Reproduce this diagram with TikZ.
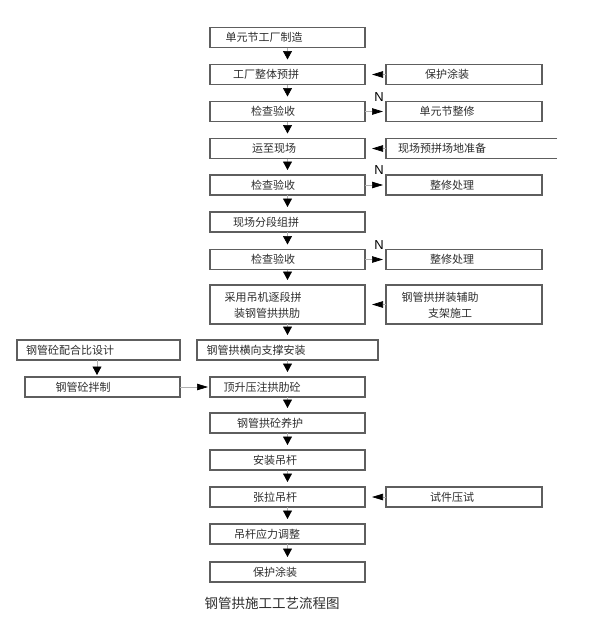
\documentclass[tikz,border=0pt]{standalone}
\usepackage{fontspec}
\setmainfont{Noto Sans CJK SC}
\newfontfamily\latinsans{Liberation Sans}
\usetikzlibrary{arrows.meta}
\definecolor{boxc}{HTML}{5E5E5E}
\definecolor{linec}{HTML}{B0B0B0}
\definecolor{txtc}{HTML}{2E2E2E}
\begin{document}
\begin{tikzpicture}[x=1pt,y=-1pt,
  box/.style={draw=boxc, line width=1.1pt, minimum height=20pt, inner sep=0pt, outer sep=0pt},
  mainbox/.style={box, minimum width=155pt},
  sidebox/.style={box, minimum width=156pt},
  txt/.style={inner sep=0pt, text=txtc, font=\fontsize{11}{13}\selectfont},
  nlab/.style={inner sep=0pt, text=black, font=\latinsans\fontsize{13}{13}\selectfont},
  vlink/.style={draw=linec, line width=0.7pt, -{Triangle[width=9pt,length=8.5pt,color=black]}, shorten >=5pt},
  hlinkl/.style={draw=linec, line width=0.7pt, -{Triangle[width=6.5pt,length=11pt,color=black]}, shorten >=7pt},
  hlinkr/.style={draw=linec, line width=0.7pt, -{Triangle[width=6.5pt,length=11pt,color=black]}, shorten >=3pt},
  boxline/.style={draw=boxc, line width=1.1pt}
]
\useasboundingbox[fill=white] (0,0) rectangle (595,621);

% main column
\node[mainbox] (b1) at (287.5,37.5) {};
\node[txt] (t1) at (264,37.5) {单元节工厂制造};
\node[mainbox] (b2) at (287.5,74.5) {};
\node[txt] (t2) at (266,74.5) {工厂整体预拼};
\node[mainbox] (b3) at (287.5,111.5) {};
\node[txt] (t3) at (273,111.5) {检查验收};
\node[mainbox] (b4) at (287.5,148.5) {};
\node[txt] (t4) at (274,148.5) {运至现场};
\node[mainbox] (b5) at (287.5,185) {};
\node[txt] (t5) at (273,185) {检查验收};
\node[mainbox] (b6) at (287.5,222) {};
\node[txt] (t6) at (266,222) {现场分段组拼};
\node[mainbox] (b7) at (287.5,259.5) {};
\node[txt] (t7) at (273,259.5) {检查验收};
\node[mainbox, minimum height=39pt] (b8) at (287.5,304.5) {};
\node[txt] (t8a) at (263,297) {采用吊机逐段拼};
\node[txt] (t8b) at (267,313) {装钢管拱拱肋};
\node[box, minimum width=181pt] (b9) at (287.5,350) {};
\node[txt] (t9) at (256,350) {钢管拱横向支撑安装};
\node[mainbox] (b10) at (287.5,387) {};
\node[txt] (t10) at (262,387) {顶升压注拱肋砼};
\node[mainbox] (b11) at (287.5,423) {};
\node[txt] (t11) at (270,423) {钢管拱砼养护};
\node[mainbox] (b12) at (287.5,460) {};
\node[txt] (t12) at (275,460) {安装吊杆};
\node[mainbox] (b13) at (287.5,497) {};
\node[txt] (t13) at (275,497) {张拉吊杆};
\node[mainbox] (b14) at (287.5,534) {};
\node[txt] (t14) at (267,534) {吊杆应力调整};
\node[mainbox] (b15) at (287.5,572) {};
\node[txt] (t15) at (275,572) {保护涂装};

% right column
\node[sidebox] (r1) at (464,74.5) {};
\node[txt] (s1) at (447,74.5) {保护涂装};
\node[sidebox] (r2) at (464,111.5) {};
\node[txt] (s2) at (447,111.5) {单元节整修};
\node[minimum width=171pt, minimum height=20pt, inner sep=0pt, outer sep=0pt] (r3) at (471.5,148.5) {};
\draw[boxline] (r3.north east) -- (r3.north west) -- (r3.south west) -- (r3.south east);
\node[txt] (s3) at (442,148.5) {现场预拼场地准备};
\node[sidebox] (r4) at (464,185) {};
\node[txt] (s4) at (452,185) {整修处理};
\node[sidebox] (r5) at (464,259.5) {};
\node[txt] (s5) at (452,259.5) {整修处理};
\node[sidebox, minimum height=39pt] (r6) at (464,304.5) {};
\node[txt] (s6a) at (440,297) {钢管拱拼装辅助};
\node[txt] (s6b) at (450,313) {支架施工};
\node[sidebox] (r7) at (464,497) {};
\node[txt] (s7) at (452,497) {试件压试};

% left column
\node[box, minimum width=163pt] (l1) at (98.5,350) {};
\node[txt] (u1) at (70,350) {钢管砼配合比设计};
\node[mainbox] (l2) at (102.5,387) {};
\node[txt] (u2) at (83,387) {钢管砼拌制};

% N labels
\node[nlab] (n1) at (379,97) {N};
\node[nlab] (n2) at (379,170) {N};
\node[nlab] (n3) at (379,245) {N};

% vertical links
\draw[vlink] (b1) -- (b2);
\draw[vlink] (b2) -- (b3);
\draw[vlink] (b3) -- (b4);
\draw[vlink] (b4) -- (b5);
\draw[vlink] (b5) -- (b6);
\draw[vlink] (b6) -- (b7);
\draw[vlink] (b7) -- (b8);
\draw[vlink] (b8) -- (b9);
\draw[vlink] (b9) -- (b10);
\draw[vlink] (b10) -- (b11);
\draw[vlink] (b11) -- (b12);
\draw[vlink] (b12) -- (b13);
\draw[vlink] (b13) -- (b14);
\draw[vlink] (b14) -- (b15);
\draw[vlink, shorten >=2pt] (l1.south -| 97,0) -- (l2.north -| 97,0);

% horizontal links
\draw[hlinkl] (r1.west) -- (b2.east);
\draw[hlinkr] (b3.east) -- (r2.west);
\draw[hlinkl] (r3.west) -- (b4.east);
\draw[hlinkr] (b5.east) -- (r4.west);
\draw[hlinkr] (b7.east) -- (r5.west);
\draw[hlinkl] (r6.west) -- (b8.east);
\draw[hlinkr, shorten >=2pt] (l2.east) -- (b10.west);
\draw[hlinkl] (r7.west) -- (b13.east);

% caption
\node[inner sep=0pt, text=txtc, font=\fontsize{13.5}{15}\selectfont] (cap) at (272,603) {钢管拱施工工艺流程图};
\end{tikzpicture}
\end{document}
